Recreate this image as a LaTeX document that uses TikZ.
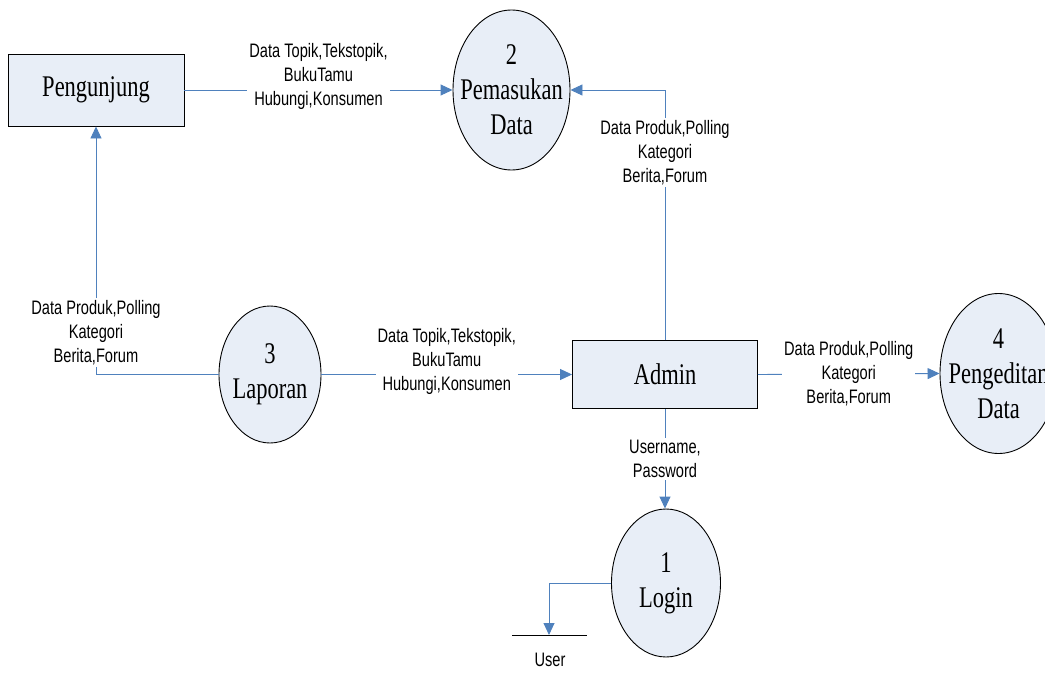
\documentclass[tikz,border=0pt]{standalone}
\usepackage{fontspec}
\usetikzlibrary{arrows.meta,shapes.geometric}
\newfontfamily\procfont[FakeStretch=0.75]{Liberation Serif}
\newfontfamily\flowfont[FakeStretch=0.75]{Liberation Sans}
\definecolor{procfill}{HTML}{E8EEF7}
\definecolor{flowblue}{HTML}{4F81BD}

\tikzset{
  entity/.style={draw, fill=procfill, line width=0.9pt, inner sep=0pt, font=\procfont\fontsize{30}{35}\selectfont},
  process/.style={draw, ellipse, fill=procfill, line width=0.9pt, inner xsep=-15pt, inner ysep=0pt, align=center, font=\procfont\fontsize{30}{35}\selectfont},
  flow/.style={draw=flowblue, line width=0.9pt, -{Triangle[length=12pt,width=11pt]}},
  flowlabel/.style={fill=white, inner sep=2pt, align=center, font=\flowfont\fontsize{19.5}{24}\selectfont},
}

\begin{document}
\begin{tikzpicture}[x=1pt, y=-1pt]
\useasboundingbox (0,0) rectangle (1045,685);
\clip (0,0) rectangle (1045,685);

\node[entity, minimum width=176pt, minimum height=72pt] (pengunjung) at (96,90) {Pengunjung};
\node[entity, minimum width=185pt, minimum height=68pt] (admin) at (665,374.5) {Admin};

\node[process, minimum width=117pt, minimum height=160pt] (masuk) at (511.5,90) {2\\Pemasukan\\Data};
\node[process, minimum width=102pt, minimum height=137pt] (laporan) at (270,374.5) {3\\Laporan};
\node[process, minimum width=117pt, minimum height=160pt] (edit) at (998.5,373.5) {4\\Pengeditan\\Data};
\node[process, minimum width=109pt, minimum height=148pt] (login) at (666,583) {1\\Login};

% user store
\coordinate (store) at (549,635);
\draw[line width=0.9pt] ([xshift=-37pt]store) -- ([xshift=38pt]store);
\node[flowlabel, fill=none] (user) at (550,660) {User};

\draw[flow] (pengunjung.east) -- node[flowlabel, yshift=14pt] {Data Topik,Tekstopik,\\BukuTamu\\Hubungi,Konsumen} (masuk.west);
\draw[flow] (admin.north) -- node[flowlabel, pos=0.75] {Data Produk,Polling\\Kategori\\Berita,Forum} (admin.north |- masuk.east) -- (masuk.east);
\draw[flow] (laporan.west) -- (pengunjung.south |- laporan.west) -- node[flowlabel, pos=0.17] {Data Produk,Polling\\Kategori\\Berita,Forum} (pengunjung.south);
\draw[flow] (laporan.east) -- node[flowlabel, yshift=13pt] {Data Topik,Tekstopik,\\BukuTamu\\Hubungi,Konsumen} (admin.west);
\draw[flow] (admin.east) -- node[flowlabel] {Data Produk,Polling\\Kategori\\Berita,Forum} (edit.west);
\draw[flow] (admin.south) -- node[flowlabel] {Username,\\Password} (admin.south |- login.north);
\draw[flow] (login.west) -| (store);

\end{tikzpicture}
\end{document}
